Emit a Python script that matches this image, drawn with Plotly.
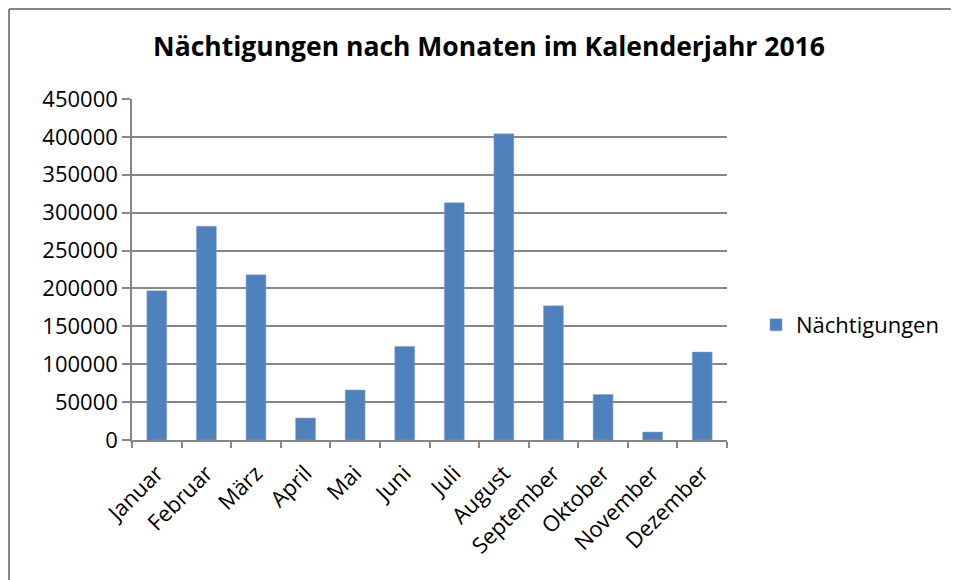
import plotly.graph_objects as go

# Daten: Nächtigungen pro Monat 2016
monate = ["Januar", "Februar", "März", "April", "Mai", "Juni",
          "Juli", "August", "September", "Oktober", "November", "Dezember"]
naechtigungen = [197000, 282000, 218000, 29000, 66000, 123500,
                 313000, 404000, 177000, 60000, 10500, 116000]
y_ticks = list(range(0, 450001, 50000))

# Seite hat 8px Rand -> alles um 8px verschoben
W, H = 959, 580
L, T = 124, 91
pw, ph = 595, 341
R, B = W - L - pw, H - T - ph

fig = go.Figure()
fig.add_trace(go.Bar(
    x=monate, y=naechtigungen, name="Nächtigungen",
    marker=dict(color="#4F81BD", line=dict(color="#7FA3D1", width=0.5)),
))

fig.update_layout(
    width=W, height=H,
    margin=dict(l=L, r=R, t=T, b=B),
    paper_bgcolor="white", plot_bgcolor="white",
    font=dict(family="Open Sans, sans-serif", size=22, color="black"),
    title=dict(text="<b>Nächtigungen nach Monaten im Kalenderjahr 2016</b>",
               x=(489 - 8) / W, xanchor="center", y=1 - 39 / H, yanchor="middle",
               font=dict(size=26.5)),
    bargap=0.6,
    showlegend=True,
    legend=dict(x=(748 - L) / pw, y=(432 - 317) / ph, xanchor="left", yanchor="middle",
                font=dict(size=22), bgcolor="rgba(0,0,0,0)"),
)

fig.update_xaxes(
    tickangle=-45, showgrid=False, showline=True, linecolor="#868686", linewidth=1.5,
    ticks="outside", tickson="boundaries", ticklen=6, tickcolor="#868686", tickwidth=1.5,
    ticklabelstandoff=10,
)
fig.update_yaxes(
    range=[0, 450000], tickvals=y_ticks, ticktext=[str(v) for v in y_ticks],
    showgrid=True, gridcolor="#868686", gridwidth=1.5,
    showline=True, linecolor="#868686", linewidth=1.5,
    ticks="outside", ticklen=8, tickcolor="#868686", tickwidth=1.5,
    zeroline=False,
)

# Rahmen (nur oben und links sichtbar)
rahmen = dict(color="#868686", width=2)
fig.add_shape(type="line", xref="paper", yref="paper",
              x0=(1 - L) / pw, x1=(W - L) / pw, y0=(432 - 1) / ph, y1=(432 - 1) / ph,
              line=rahmen, layer="below")
fig.add_shape(type="line", xref="paper", yref="paper",
              x0=(1 - L) / pw, x1=(1 - L) / pw, y0=(432 - H) / ph, y1=(432 - 1) / ph,
              line=rahmen, layer="below")

fig.write_html("out.html")
